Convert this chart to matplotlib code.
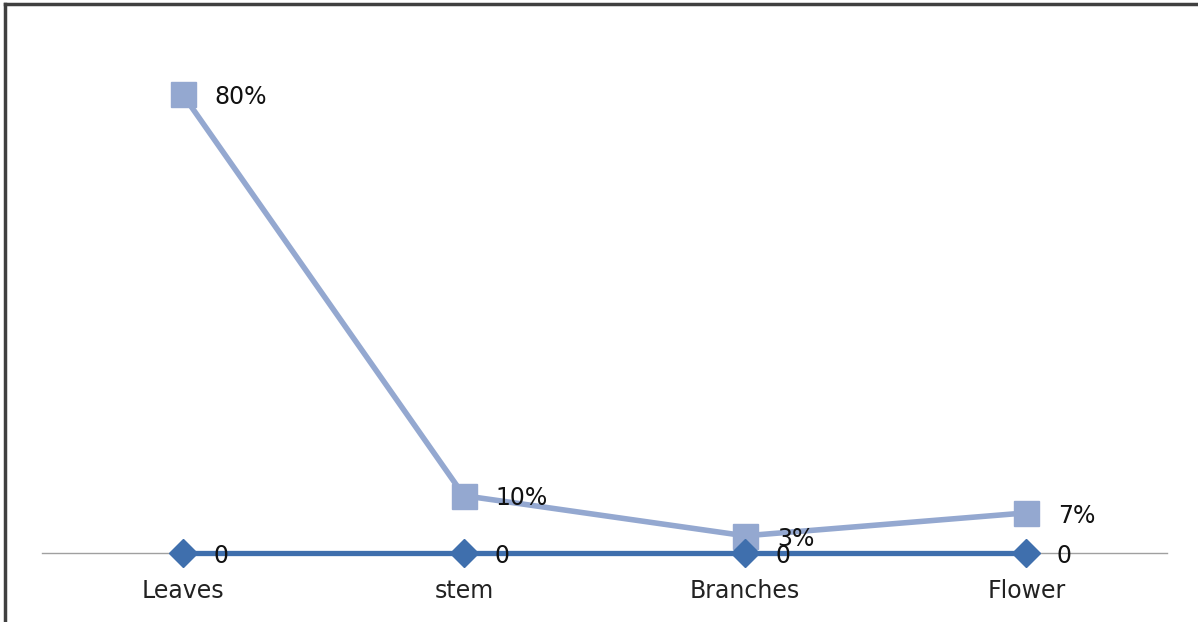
import matplotlib.pyplot as plt
from matplotlib.lines import Line2D

plt.rcParams['font.family'] = ['DejaVu Sans']

# datos
categorias = ['Leaves', 'stem', 'Branches', 'Flower']
serie_cero = [0, 0, 0, 0]
porcentaje = [0.80, 0.10, 0.03, 0.07]
etiquetas_pct = ['80%', '10%', '3%', '7%']

W, H = 1198, 622
fig = plt.figure(figsize=(W / 100, H / 100), dpi=100)
ax = fig.add_axes([42 / W, 69 / H, 1125 / W, 516 / H])

x = list(range(len(categorias)))

# serie en cero (diamantes)
ax.plot(x, serie_cero, color='#3F6FAD', lw=3.8, marker='D', ms=14,
        clip_on=False, zorder=4)
# serie de porcentajes (cuadrados)
ax.plot(x, porcentaje, color='#94A8D0', lw=4, marker='s', ms=18,
        clip_on=False, zorder=3)

for xi, v, t in zip(x, porcentaje, etiquetas_pct):
    ax.annotate(t, (xi, v), xytext=(23, -2), textcoords='offset points',
                va='center', ha='left', fontsize=17, color='#111111', zorder=5)
for xi, v in zip(x, serie_cero):
    ax.annotate(str(v), (xi, v), xytext=(22, -2), textcoords='offset points',
                va='center', ha='left', fontsize=17, color='#111111', zorder=5)

ax.set_xlim(-0.5, 3.5)
ax.set_ylim(0, 0.9)
ax.set_xticks(x)
ax.set_xticklabels(categorias, fontsize=17, color='#222222')
ax.tick_params(axis='x', length=0, pad=19)
ax.set_yticks([])
for s in ['top', 'left', 'right']:
    ax.spines[s].set_visible(False)
ax.spines['bottom'].set_color('#A0A0A0')
ax.spines['bottom'].set_linewidth(1.0)
ax.spines['bottom'].set_zorder(1)

# marco
fig.add_artist(Line2D([5 / W, 1], [1 - 4 / H, 1 - 4 / H], transform=fig.transFigure,
                      color='#404040', lw=2.5))
fig.add_artist(Line2D([5 / W, 5 / W], [0, 1 - 4 / H], transform=fig.transFigure,
                      color='#404040', lw=2.5))

fig.savefig('out.png', dpi=100)
